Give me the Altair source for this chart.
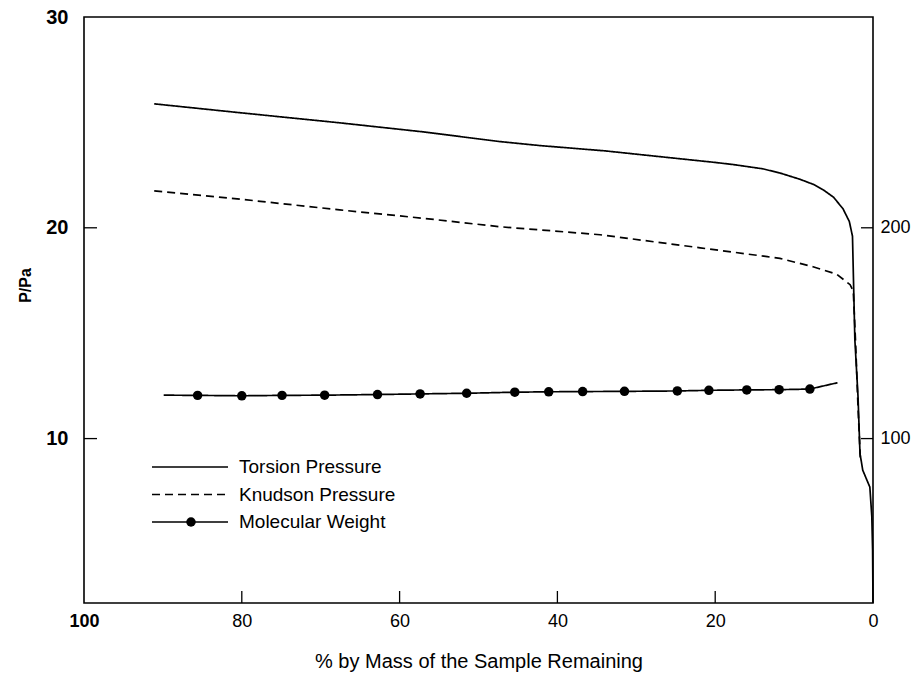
import altair as alt
import pandas as pd

# ---------------- data ----------------
torsion_pct = [91.1, 80.0, 67.6, 57.0, 47.3, 42.2, 34.0, 27.9, 20.0, 17.7, 14.0, 11.8, 9.25,
               7.5, 6.3, 5.0, 3.8, 3.0, 2.6, 2.3, 1.9, 1.65, 1.3, 0.4, 0.15, 0.05, 0.0]
torsion_p = [25.88, 25.45, 24.98, 24.55, 24.09, 23.9, 23.65, 23.41, 23.1, 23.0, 22.8, 22.6, 22.3,
             22.05, 21.8, 21.45, 20.9, 20.3, 19.6, 14.7, 12.0, 9.3, 8.5, 7.7, 6.3, 4.7, 2.2]

knudson_pct = [91.1, 80.0, 67.6, 57.0, 47.3, 42.2, 34.6, 21.9, 13.4, 11.8, 7.6, 4.6,
               2.9, 2.5, 2.2, 1.9, 1.6]
knudson_p = [21.75, 21.35, 20.85, 20.45, 20.05, 19.9, 19.67, 19.05, 18.63, 18.55, 18.15, 17.8,
             17.3, 17.0, 14.5, 11.5, 9.0]

mw_line_pct = [89.9, 85.6, 80.0, 74.9, 69.5, 62.8, 57.4, 51.5, 45.4, 41.1, 36.8, 31.5,
               24.8, 20.8, 16.0, 11.9, 8.0, 4.5]
mw_line_val = [120.6, 120.5, 120.3, 120.5, 120.6, 120.9, 121.2, 121.5, 122.0, 122.2, 122.3, 122.4,
               122.6, 122.9, 123.1, 123.2, 123.5, 126.5]

mw_dot_pct = [85.6, 80.0, 74.9, 69.5, 62.8, 57.4, 51.5, 45.4, 41.1, 36.8, 31.5,
              24.8, 20.8, 16.0, 11.9, 8.0]
mw_dot_val = [120.5, 120.3, 120.5, 120.6, 120.9, 121.2, 121.5, 122.0, 122.2, 122.3, 122.4,
              122.6, 122.9, 123.1, 123.2, 123.5]

series_names = ["Torsion Pressure", "Knudson Pressure", "Molecular Weight"]
x_tick_labels = [100, 80, 60, 40, 20, 0]
p_tick_labels = [10, 20, 30]
mw_tick_labels = [100, 200]

# ---------------- layout ----------------
W, H = 789, 586
FONT = "Liberation Sans"

pressure_df = pd.concat([
    pd.DataFrame({"pct": torsion_pct, "val": torsion_p, "series": series_names[0]}),
    pd.DataFrame({"pct": knudson_pct, "val": knudson_p, "series": series_names[1]}),
])
mw_line_df = pd.DataFrame({"pct": mw_line_pct, "val": mw_line_val, "series": series_names[2]})
mw_dot_df = pd.DataFrame({"pct": mw_dot_pct, "val": mw_dot_val})

x_scale = alt.Scale(domain=[100, 0], nice=False, zero=False)
x_axis = alt.Axis(values=x_tick_labels, ticks=False, domain=False, grid=False,
                  labelFlush=False, labelPadding=9, labelFontSize=18, labelFont=FONT,
                  labelColor="black",
                  labelFontWeight={"condition": {"test": "datum.value == 100", "value": "bold"},
                                   "value": "normal"},
                  title="% by Mass of the Sample Remaining", titleFont=FONT,
                  titleFontSize=20, titleFontWeight="normal", titlePadding=21,
                  titleColor="black")
x_enc = alt.X("pct:Q", scale=x_scale, axis=x_axis)

p_scale = alt.Scale(domain=[2.2, 30], nice=False, zero=False)
mw_scale = alt.Scale(domain=[22, 300], nice=False, zero=False)

dash_enc = alt.StrokeDash("series:N", scale=alt.Scale(domain=series_names,
                          range=[[1, 0], [8, 5], [1, 0]]), legend=None)

pressure = alt.Chart(pressure_df).mark_line(color="black", strokeWidth=1.7).encode(
    x=x_enc,
    y=alt.Y("val:Q", scale=p_scale,
            axis=alt.Axis(orient="left", values=p_tick_labels, ticks=False, domain=False,
                          grid=False, labelPadding=16, labelFontSize=20,
                          labelFontWeight="bold", labelFont=FONT, labelColor="black",
                          title="P/Pa", titleFont=FONT, titleFontSize=16,
                          titleFontWeight="bold", titlePadding=12, titleColor="black",
                          titleY=268)),
    strokeDash=dash_enc,
    detail="series:N",
)

mw_line = alt.Chart(mw_line_df).mark_line(color="black", strokeWidth=1.7).encode(
    x=x_enc,
    y=alt.Y("val:Q", scale=mw_scale,
            axis=alt.Axis(orient="right", values=mw_tick_labels, ticks=False, domain=False,
                          grid=False, labelPadding=7, labelFontSize=18, labelFont=FONT,
                          labelFontWeight="normal", labelColor="black", title=None)),
    strokeDash=dash_enc,
)

mw_dots = alt.Chart(mw_dot_df).mark_point(filled=True, color="black", size=90, opacity=1).encode(
    x=x_enc,
    y=alt.Y("val:Q", scale=mw_scale, axis=None),
)

# inward ticks
left_ticks = alt.Chart(pd.DataFrame({"v": p_tick_labels[:2]})).mark_rule(
    color="black", strokeWidth=1.3).encode(
    y=alt.Y("v:Q", scale=p_scale, axis=None), x=alt.value(0), x2=alt.value(13))
right_ticks = alt.Chart(pd.DataFrame({"v": mw_tick_labels})).mark_rule(
    color="black", strokeWidth=1.3).encode(
    y=alt.Y("v:Q", scale=mw_scale, axis=None), x=alt.value(W - 12), x2=alt.value(W))
bottom_ticks = alt.Chart(pd.DataFrame({"pct": x_tick_labels[1:-1]})).mark_rule(
    color="black", strokeWidth=1.3).encode(
    x=x_enc, y=alt.value(H), y2=alt.value(H - 12))

# legend
legend_df = pd.DataFrame({"series": series_names, "row": [0, 1, 2]})
row_y = alt.Y("row:Q", scale=alt.Scale(domain=[0, 2], range=[450, 505]), axis=None)
leg_lines = alt.Chart(legend_df).mark_rule(color="black", strokeWidth=1.7).encode(
    x=alt.value(68), x2=alt.value(144), y=row_y, strokeDash=dash_enc)
leg_text = alt.Chart(legend_df).mark_text(align="left", baseline="middle", fontSize=19,
                                          font=FONT, color="black").encode(
    x=alt.value(155), y=row_y, text="series:N")
leg_dot = alt.Chart(legend_df).mark_point(filled=True, color="black", size=90, opacity=1).encode(
    x=alt.value(107), y=row_y).transform_filter("datum.row == 2")

chart = alt.layer(
    pressure, mw_line, mw_dots, left_ticks, right_ticks, bottom_ticks,
    leg_lines, leg_text, leg_dot
).resolve_scale(y="independent").properties(
    width=W, height=H,
    padding={"left": 84, "top": 17, "right": 47, "bottom": 70},
    autosize=alt.AutoSizeParams(type="none"),
    background="white",
).configure_view(stroke="black", strokeWidth=1.6)

chart.save("out.html", embed_options={"renderer": "svg", "actions": False})
